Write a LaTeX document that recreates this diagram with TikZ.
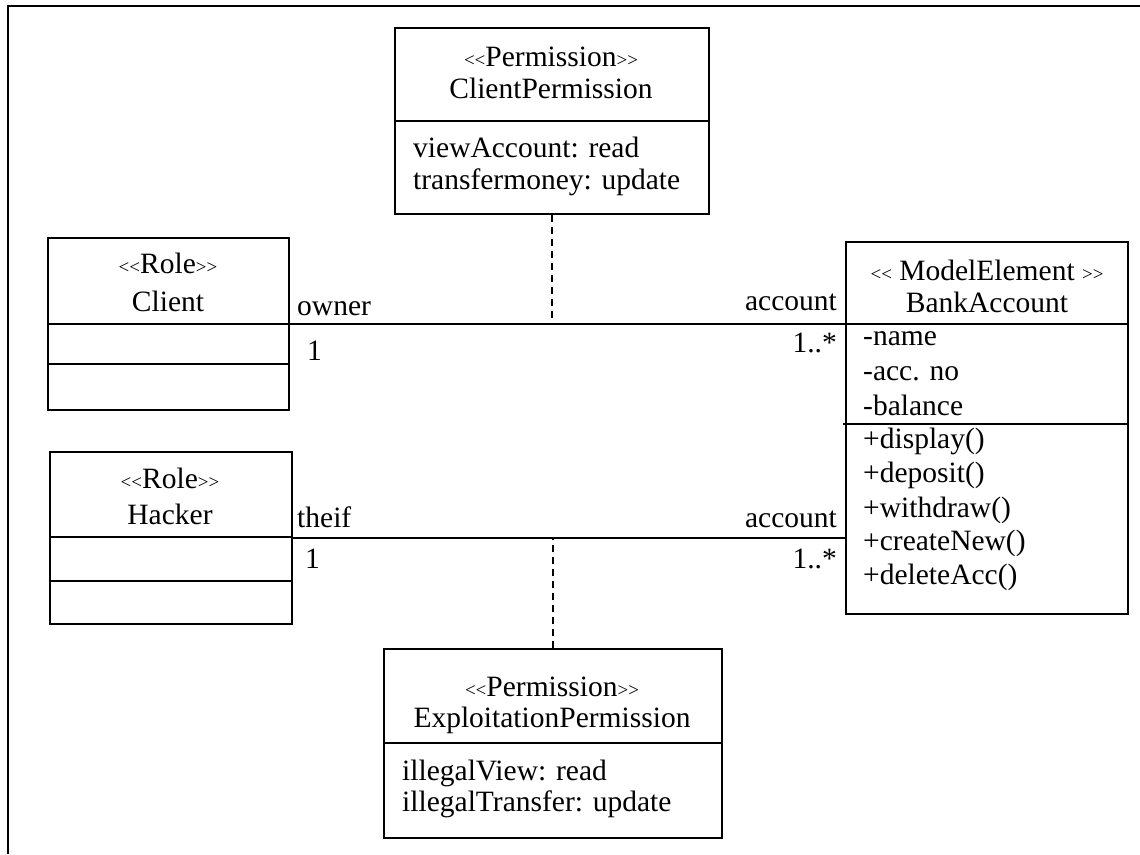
\documentclass[tikz,border=0pt]{standalone}
\usepackage{fontspec}
\setmainfont{Liberation Serif}
\newcommand\stereo[1]{{\fontsize{19}{19}\selectfont<\kern0pt<}#1{\fontsize{19}{19}\selectfont>\kern0pt>}}
\begin{document}
\begin{tikzpicture}[x=1pt,y=-1pt,
  box/.style={draw, line width=1.8pt, inner sep=0pt, anchor=north west},
  divline/.style={line width=1.8pt},
  assoc/.style={line width=1.8pt},
  dashline/.style={line width=1.8pt, dash pattern=on 7pt off 5pt},
  frameline/.style={line width=2.6pt},
  txt/.style={font=\fontsize{29.5}{33}\selectfont, inner sep=0pt, anchor=base},
  lft/.style={txt, anchor=base west},
  rgt/.style={txt, anchor=base east}]
\useasboundingbox (0,0) rectangle (1140,854);
\draw[frameline] (8,854) -- (8,6) -- (1140,6);

% boxes
\node[box, minimum width=314pt, minimum height=186pt] (cp) at (394,27) {};
\node[box, minimum width=241pt, minimum height=172pt] (client) at (47,237) {};
\node[box, minimum width=242pt, minimum height=172pt] (hacker) at (49,451) {};
\node[box, minimum width=282pt, minimum height=372pt] (bank) at (845,241) {};
\node[box, minimum width=338pt, minimum height=189pt] (ep) at (383,648) {};

% dividers
\draw[divline] (cp.west |- 0,121) -- (cp.east |- 0,121);
\draw[divline] (client.west |- 0,324) -- (client.east |- 0,324);
\draw[divline] (client.west |- 0,364) -- (client.east |- 0,364);
\draw[divline] (hacker.west |- 0,537) -- (hacker.east |- 0,537);
\draw[divline] (hacker.west |- 0,581) -- (hacker.east |- 0,581);
\draw[divline] (bank.west |- 0,324) -- (bank.east |- 0,324);
\draw[divline] (843,424) -- (bank.east |- 0,424);
\draw[divline] (ep.west |- 0,743) -- (ep.east |- 0,743);

% texts
\node[txt] (cps) at (551,66) {\stereo{Permission}};
\node[txt] (cpn) at (551,98) {ClientPermission};
\node[lft] (cpa1) at (413,157) {viewAccount: read};
\node[lft] (cpa2) at (413,189) {transfermoney: update};

\node[txt] (cls) at (168,273) {\stereo{Role}};
\node[txt] (cln) at (168,311) {Client};

\node[txt] (hks) at (170,488) {\stereo{Role}};
\node[txt] (hkn) at (170,524) {Hacker};

\node[txt] (bks) at (987,280) {\stereo{ ModelElement }};
\node[txt] (bkn) at (987,312) {BankAccount};
\node[lft] (ba1) at (863,345) {-name};
\node[lft] (ba2) at (863,380) {-acc. no};
\node[lft] (ba3) at (863,415) {-balance};
\node[lft] (bm1) at (863,448) {+display()};
\node[lft] (bm2) at (863,482) {+deposit()};
\node[lft] (bm3) at (863,517) {+withdraw()};
\node[lft] (bm4) at (863,550) {+createNew()};
\node[lft] (bm5) at (863,584) {+deleteAcc()};

\node[txt] (eps) at (552,696) {\stereo{Permission}};
\node[txt] (epn) at (552,727) {ExploitationPermission};
\node[lft] (epa1) at (402,780) {illegalView: read};
\node[lft] (epa2) at (402,811) {illegalTransfer: update};

% associations
\draw[assoc] (client.east) -- (client.east -| bank.west);
\draw[assoc] (hacker.east) -- (hacker.east -| bank.west);
\draw[dashline] (cp.south) -- (cp.south |- client.east);
\draw[dashline] (ep.north) -- (ep.north |- hacker.east);

% association labels
\node[lft] (own) at (297,315) {owner};
\node[lft] (m1) at (307,360) {1};
\node[rgt] (acc1) at (837,310) {account};
\node[rgt] (m2) at (837,352) {1..*};
\node[lft] (thf) at (297,527) {theif};
\node[lft] (m3) at (305,568) {1};
\node[rgt] (acc2) at (837,527) {account};
\node[rgt] (m4) at (837,568) {1..*};
\end{tikzpicture}
\end{document}
